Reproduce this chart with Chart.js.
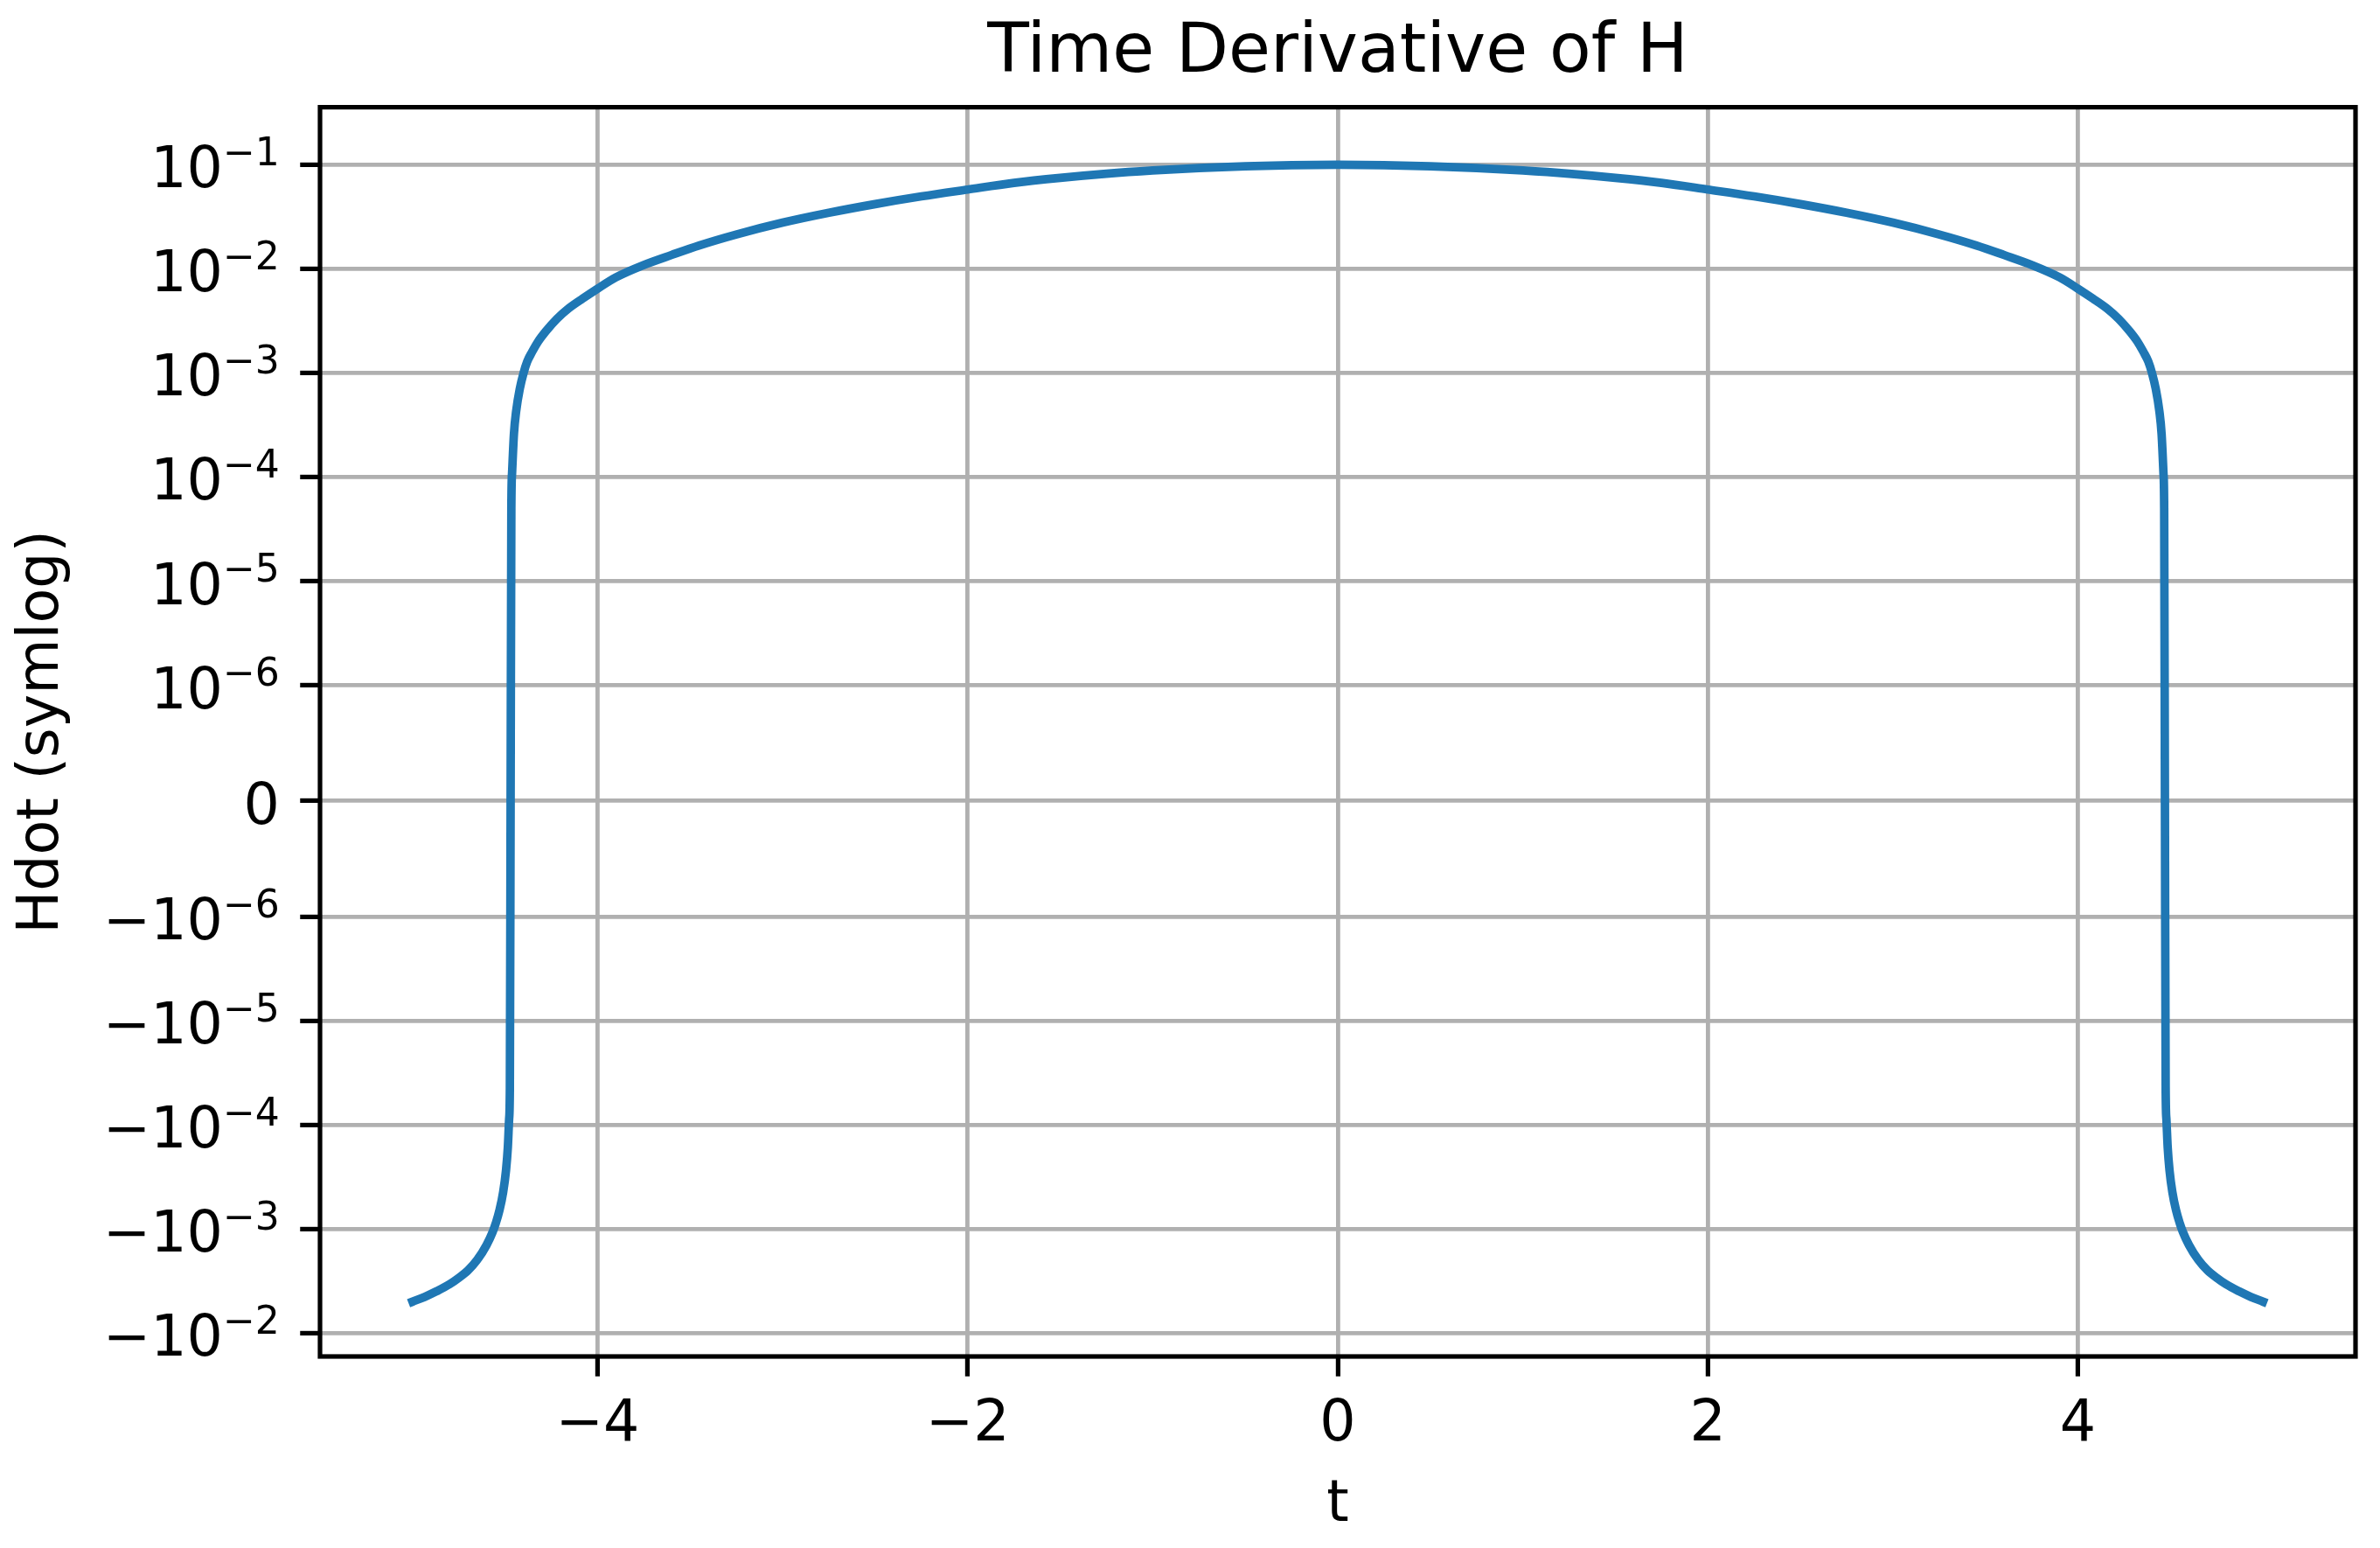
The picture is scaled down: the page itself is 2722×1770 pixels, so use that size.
<!DOCTYPE html>
<html>
<head>
<meta charset="utf-8">
<title>Time Derivative of H</title>
<script src="https://cdn.jsdelivr.net/npm/chart.js@4.4.1/dist/chart.umd.min.js"></script>
<style>
  html, body { margin: 0; padding: 0; background: #fff; }
  canvas { display: block; }
</style>
</head>
<body>
<canvas id="hdotChart" width="2722" height="1770"></canvas>
<script>
// ---- data ----
const tValues = [
  -5.0, -4.935, -4.87, -4.8, -4.75, -4.7, -4.65, -4.6, -4.567, -4.55, -4.53, -4.51,
  -4.495, -4.485, -4.478, -4.474, -4.47, -4.466, -4.462, -4.452, -4.44, -4.42, -4.4,
  -4.38, -4.355, -4.32, -4.28, -4.22, -4.16, -4.08, -4.0, -3.9, -3.75, -3.6, -3.45,
  -3.25, -3.0, -2.75, -2.5, -2.25, -2.0, -1.75, -1.5, -1.25, -1.0, -0.75, -0.5,
  -0.25, 0,
  0.25, 0.5, 0.75, 1.0, 1.25, 1.5, 1.75, 2.0, 2.25, 2.5, 2.75, 3.0, 3.25, 3.45,
  3.6, 3.75, 3.9, 4.0, 4.08, 4.16, 4.22, 4.28, 4.32, 4.355, 4.38, 4.4, 4.42, 4.44,
  4.452, 4.462, 4.466, 4.47, 4.474, 4.478, 4.485, 4.495, 4.51, 4.53, 4.55, 4.567,
  4.6, 4.65, 4.7, 4.75, 4.8, 4.87, 4.935, 5.0,
];
const hdotValues = [
  -0.0050, -0.0045, -0.00397, -0.0034, -0.00295, -0.0025, -0.00198, -0.00143,
  -0.00107, -0.00088, -0.00066, -0.00044, -0.000275, -0.000165, -0.000088,
  -0.000044, 0, 0.00005, 0.00011, 0.00026, 0.00043, 0.00071, 0.00100, 0.00129,
  0.00158, 0.00202, 0.00251, 0.00331, 0.00412, 0.00519, 0.00645, 0.0083, 0.0109,
  0.0136, 0.0168, 0.0214, 0.0278, 0.0346, 0.0419, 0.0497, 0.0578, 0.0669, 0.0748,
  0.0820, 0.0881, 0.0931, 0.0969, 0.0992, 0.1000,
  0.0992, 0.0969, 0.0931, 0.0881, 0.0820, 0.0748, 0.0669, 0.0578, 0.0497, 0.0419,
  0.0346, 0.0278, 0.0214, 0.0168, 0.0136, 0.0109, 0.0083, 0.00645, 0.00519,
  0.00412, 0.00331, 0.00251, 0.00202, 0.00158, 0.00129, 0.00100, 0.00071, 0.00043,
  0.00026, 0.00011, 0.00005, 0, -0.000044, -0.000088, -0.000165, -0.000275,
  -0.00044, -0.00066, -0.00088, -0.00107, -0.00143, -0.00198, -0.0025, -0.00295,
  -0.0034, -0.00397, -0.0045, -0.0050,
];
const xTicks = [-4, -2, 0, 2, 4];
const xTickLabels = ['\u22124', '\u22122', '0', '2', '4'];
const yTicks = [-1e-2, -1e-3, -1e-4, -1e-5, -1e-6, 0, 1e-6, 1e-5, 1e-4, 1e-3, 1e-2, 1e-1];
// y tick labels as mantissa + exponent, e.g. "10" with superscript "−1"
const yTickBases = ['\u221210', '\u221210', '\u221210', '\u221210', '\u221210', '0',
  '10', '10', '10', '10', '10', '10'];
const yTickExponents = ['\u22122', '\u22123', '\u22124', '\u22125', '\u22126', '',
  '\u22126', '\u22125', '\u22124', '\u22123', '\u22122', '\u22121'];

const FONT = "'DejaVu Sans', sans-serif";
const LINE_BLUE = '#1f77b4';
const GRID_GREY = '#b0b0b0';
const TICK_FONT = 65;
const SUP_FONT = 44;
const TICK_LEN = 22.75;
const TICK_PAD = 23.5;

// ---- symlog scale (matplotlib style, base 10, linthresh 1e-6, linscale 1) ----
const LINTHRESH = 1e-6;
const LINSCALE = 1 / (1 - 1 / 10);

function symlog(v) {
  const a = Math.abs(v);
  if (a <= LINTHRESH) return (v / LINTHRESH) * LINSCALE;
  return Math.sign(v) * (LINSCALE + Math.log10(a / LINTHRESH));
}

function symexp(y) {
  const a = Math.abs(y);
  if (a <= LINSCALE) return (y / LINSCALE) * LINTHRESH;
  return Math.sign(y) * LINTHRESH * Math.pow(10, a - LINSCALE);
}

class SymlogScale extends Chart.LinearScale {
  buildTicks() {
    return yTicks.map(value => ({ value }));
  }
  getPixelForValue(value) {
    const lo = symlog(this.min);
    const hi = symlog(this.max);
    return this.getPixelForDecimal((symlog(value) - lo) / (hi - lo));
  }
  getValueForPixel(pixel) {
    const lo = symlog(this.min);
    const hi = symlog(this.max);
    return symexp(lo + this.getDecimalForPixel(pixel) * (hi - lo));
  }
}
SymlogScale.id = 'symlog';
SymlogScale.defaults = {};
Chart.register(SymlogScale);

// y tick labels with a real superscript exponent (mathtext look)
const powerLabels = {
  id: 'powerLabels',
  afterDraw(chart) {
    const { ctx, chartArea } = chart;
    const yScale = chart.scales.y;
    const right = chartArea.left - TICK_LEN - TICK_PAD;
    ctx.save();
    ctx.fillStyle = '#000';
    ctx.textAlign = 'left';
    ctx.textBaseline = 'alphabetic';
    yTicks.forEach((value, i) => {
      const y = yScale.getPixelForValue(value);
      ctx.font = `${TICK_FONT}px ${FONT}`;
      const wBase = ctx.measureText(yTickBases[i]).width;
      ctx.font = `${SUP_FONT}px ${FONT}`;
      const wExp = ctx.measureText(yTickExponents[i]).width;
      const x0 = right - wBase - wExp;
      ctx.font = `${TICK_FONT}px ${FONT}`;
      ctx.fillText(yTickBases[i], x0, y + 26);
      if (yTickExponents[i]) {
        ctx.font = `${SUP_FONT}px ${FONT}`;
        ctx.fillText(yTickExponents[i], x0 + wBase, y + 0.5);
      }
    });
    ctx.restore();
  },
};

// axes frame on all four sides, like matplotlib spines
const framePlugin = {
  id: 'frame',
  afterDraw(chart) {
    const { ctx, chartArea: a } = chart;
    ctx.save();
    ctx.strokeStyle = '#000';
    ctx.lineWidth = 5.2;
    ctx.strokeRect(a.left, a.top, a.right - a.left, a.bottom - a.top);
    ctx.restore();
  },
};

const gridOpts = {
  color: GRID_GREY,
  lineWidth: 4.8,
  tickColor: '#000',
  tickWidth: 5.2,
  tickLength: TICK_LEN,
  drawTicks: true,
};

new Chart(document.getElementById('hdotChart'), {
  type: 'line',
  data: {
    datasets: [{
      label: 'Hdot',
      data: tValues.map((t, i) => ({ x: t, y: hdotValues[i] })),
      borderColor: LINE_BLUE,
      borderWidth: 9.75,
      borderCapStyle: 'square',
      pointRadius: 0,
      fill: false,
      cubicInterpolationMode: 'monotone',
    }],
  },
  options: {
    responsive: false,
    animation: false,
    devicePixelRatio: 1,
    layout: { padding: { left: 0, right: 28, top: 0, bottom: 0 } },
    plugins: {
      legend: { display: false },
      tooltip: { enabled: false },
      title: {
        display: true,
        fullSize: false,
        text: 'Time Derivative of H',
        color: '#000',
        font: { family: FONT, size: 78, weight: 'normal' },
        padding: { top: 15, bottom: 14 },
      },
    },
    scales: {
      x: {
        type: 'linear',
        min: -5.5,
        max: 5.5,
        grid: gridOpts,
        border: { display: false },
        afterBuildTicks: scale => { scale.ticks = xTicks.map(value => ({ value })); },
        afterFit: scale => { scale.height = 219; },
        ticks: {
          color: '#000',
          font: { family: FONT, size: TICK_FONT },
          padding: 17,
          autoSkip: false,
          maxRotation: 0,
          callback: value => xTickLabels[xTicks.indexOf(value)],
        },
        title: {
          display: true,
          text: 't',
          color: '#000',
          font: { family: FONT, size: TICK_FONT },
          padding: { top: 0, bottom: 9 },
        },
      },
      y: {
        type: 'symlog',
        min: -0.0168,
        max: 0.357,
        grid: gridOpts,
        border: { display: false },
        afterFit: scale => { scale.width = 366; },
        ticks: {
          display: false,
          autoSkip: false,
        },
        title: {
          display: true,
          text: 'Hdot (symlog)',
          color: '#000',
          font: { family: FONT, size: TICK_FONT },
          padding: { top: 10, bottom: 0 },
        },
      },
    },
  },
  plugins: [powerLabels, framePlugin],
});
</script>
</body>
</html>
